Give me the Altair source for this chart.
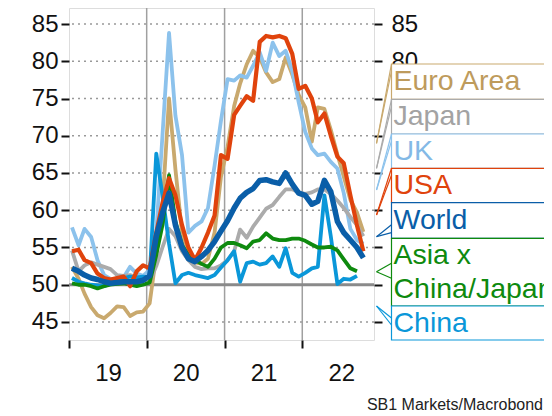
import altair as alt
import pandas as pd

FONT = "Liberation Sans"

months = [f"{2019 + i // 12}-{i % 12 + 1:02d}-15" for i in range(46)]

euro = [52.4, 50.8, 48.8, 47.0, 45.9, 45.5, 46.2, 47.1, 47.0, 45.8, 46.3, 46.4,
        47.5, 54.0, 60.5, 75.0, 65.5, 57.0, 53.5, 53.0, 52.8, 53.5, 57.0, 64.5,
        68.5, 74.0, 77.0, 79.6, 81.4, 80.5, 78.5, 77.2, 77.6, 80.5, 78.2, 75.5,
        73.8, 69.2, 73.8, 73.6, 70.8, 67.5, 64.5, 61.4, 59.7, 57.1]
japan = [54.6, 51.8, 52.6, 53.0, 52.7, 52.4, 52.1, 51.3, 51.2, 51.3, 51.0, 50.7,
         50.4, 52.5, 55.0, 57.5, 56.5, 54.5, 53.3, 52.4, 52.1, 52.2, 52.2, 52.6,
         53.3, 54.5, 57.4, 56.3, 57.8, 59.0, 60.2, 60.7, 61.8, 62.8, 62.8, 62.4,
         62.2, 62.4, 62.8, 62.8, 62.2, 61.3, 60.3, 59.1, 58.0, 56.5]
uk = [57.7, 55.3, 57.5, 56.4, 53.3, 51.3, 50.8, 50.6, 51.0, 52.4, 51.5, 51.2,
      52.0, 57.0, 70.0, 83.8, 72.7, 67.4, 57.0, 57.9, 58.5, 60.3, 66.0, 72.0,
      77.6, 77.4, 78.1, 77.8, 79.4, 81.2, 78.7, 82.5, 80.7, 81.4, 78.7, 74.5,
      70.5, 68.3, 67.4, 67.6, 66.5, 65.6, 62.3, 57.5, 56.0, 55.5]
usa = [54.5, 54.7, 53.3, 52.9, 51.5, 50.9, 50.7, 50.9, 51.1, 49.8, 51.8, 52.6,
       52.2, 57.0, 60.9, 64.3, 62.0, 58.0, 55.0, 53.3, 55.0, 57.0, 59.3, 67.4,
       66.9, 72.8, 74.0, 75.3, 74.7, 82.6, 83.4, 83.2, 83.4, 83.1, 81.0, 76.3,
       76.7, 75.0, 71.8, 73.0, 70.0, 67.2, 66.3, 62.0, 58.0, 54.5]
world = [52.2, 51.8, 51.3, 50.9, 50.7, 50.4, 50.2, 50.3, 50.4, 50.4, 50.4, 50.6,
         51.2, 56.5, 59.6, 62.3, 58.0, 55.0, 53.5, 53.1, 53.8, 54.6, 55.8, 57.2,
         58.6, 60.3, 61.6, 62.4, 62.9, 64.0, 64.1, 63.8, 63.6, 65.0, 63.5, 62.3,
         62.0, 60.8, 61.2, 64.0, 62.5, 58.5, 57.0, 56.0, 55.0, 53.6]
asia = [50.2, 50.0, 50.0, 49.8, 49.5, 49.8, 50.0, 50.1, 50.2, 50.0, 49.8, 50.0,
        50.3, 54.0, 58.0, 64.7, 58.5, 55.3, 54.0, 53.3, 52.8, 52.4, 53.5, 55.0,
        55.6, 55.6, 55.3, 54.9, 55.8, 56.0, 56.9, 56.2, 56.0, 56.0, 56.2, 56.2,
        55.9, 55.4, 55.0, 55.0, 55.1, 54.6, 53.4, 52.2, 51.8]
china = [50.9, 50.4, 50.2, 50.0, 49.9, 49.8, 50.2, 50.7, 50.9, 51.1, 51.0, 51.1,
         51.0, 67.6, 62.0, 55.5, 50.2, 51.3, 51.6, 51.3, 51.1, 50.9, 51.3, 52.3,
         53.3, 54.5, 50.4, 52.9, 53.1, 52.7, 52.9, 53.8, 52.4, 54.9, 51.6, 51.1,
         51.6, 52.2, 52.4, 62.0, 56.5, 50.1, 50.8, 50.7, 51.2]

names = ["Euro Area", "Japan", "UK", "USA", "World", "Asia x China/Japan", "China"]
values = [euro, japan, uk, usa, world, asia, china]
colors = ["#C9A96E", "#ABABAB", "#8CC2EC", "#E0430C", "#0A5EA8", "#0E8A0E", "#0A97D9"]
text_colors = ["#BE9B5C", "#A3A3A3", "#83B9E6", "#E0430C", "#0A5EA8", "#0E8A0E", "#0A97D9"]
widths = [3.8, 3.8, 3.8, 4.2, 5.5, 3.8, 3.8]
draw_order = ["Euro Area", "UK", "Japan", "China", "Asia x China/Japan", "USA", "World"]

tick_values = [45, 50, 55, 60, 65, 70, 75, 80, 85]
grid_values = [45, 55, 60, 65, 70, 75, 80, 85]
year_lines = ["2020-01-01", "2021-01-01", "2022-01-01"]
year_ticks = [2019, 2020, 2021, 2022]
label_lines = [["Euro Area"], ["Japan"], ["UK"], ["USA"], ["World"], ["Asia x", "China/Japan"], ["China"]]
source = "SB1 Markets/Macrobond"

W, H = 305, 332
xscale = alt.Scale(type="utc", domain=[alt.DateTime(year=2019, month=1, date=1, utc=True),
                                        alt.DateTime(year=2022, month=12, date=4, utc=True)])
yscale = alt.Scale(domain=[42.58, 87.15], nice=False, zero=False)

x_axis = alt.Axis(values=[alt.DateTime(year=y, month=1, date=1, utc=True) for y in year_ticks],
                  format="%y", labelOffset=39, tickSize=8, tickWidth=2, tickColor="#111",
                  domain=False, grid=False, labelFontSize=24, labelFont=FONT, labelColor="#111",
                  labelPadding=13, labelFlush=False, labelOverlap=False, title=None)
left_axis = alt.Axis(orient="left", values=tick_values, tickSize=8, tickWidth=2, tickColor="#111",
                     domain=False, grid=False, labelFontSize=24, labelFont=FONT, labelColor="#111",
                     labelPadding=3, title=None)
# on the right only the top labels stay visible (the rest sit behind the label boxes)
right_axis = alt.Axis(orient="right", values=tick_values, tickSize=8, tickWidth=2, tickColor="#111",
                      domain=False, grid=False, labelFontSize=24, labelFont=FONT, labelColor="#111",
                      labelPadding=9, title=None, labelExpr="datum.value >= 80 ? datum.label : ''")

grid = alt.Chart(pd.DataFrame({"v": grid_values})).mark_rule(
    color="#999999", strokeWidth=1.6, strokeDash=[2, 4]).encode(
    y=alt.Y("v:Q", scale=yscale, axis=right_axis))
fifty = alt.Chart(pd.DataFrame({"v": [50]})).mark_rule(color="#8A8A8A", strokeWidth=3).encode(
    y=alt.Y("v:Q", scale=yscale, axis=None))
years = alt.Chart(pd.DataFrame({"d": year_lines})).mark_rule(color="#A0A0A0", strokeWidth=1.5).encode(
    x=alt.X("d:T", scale=xscale, axis=None))

layers = [grid, years, fifty]
for k, nm in enumerate(draw_order):
    idx = names.index(nm)
    vals = values[idx]
    df = pd.DataFrame({"date": months[:len(vals)], "value": vals})
    layers.append(alt.Chart(df).mark_line(clip=True, color=colors[idx], strokeWidth=widths[idx],
                                          strokeJoin="round").encode(
        x=alt.X("date:T", scale=xscale, axis=x_axis if k == 0 else None),
        y=alt.Y("value:Q", scale=yscale, axis=left_axis if k == 0 else None)))

# callout boxes (pixel layout relative to plot area)
box_x = 322.5
tops = [56, 91.3, 126, 160.3, 194.7, 230.3, 298]
bottoms = tops[1:] + [332]
tips = [135.3, 160.3, 182, 207, 228.7, 263.7, 298]
tip_x = 307.5
bases = [(tops[0], tops[0] + 7), (tops[1], tops[1] + 7), (tops[2], tops[2] + 7), (tops[3], tops[3] + 7),
         (tops[4] + 22, tops[4] + 30), (255.3, 270.3), (tops[6] + 12, tops[6] + 19)]

boxes = pd.DataFrame({"x": [box_x] * 7, "x2": [500] * 7, "y": tops, "y2": bottoms, "c": colors})
box_layer = alt.Chart(boxes).mark_rect(fill="white", strokeWidth=1.2).encode(
    x=alt.X("x:Q", scale=None, axis=None), x2="x2:Q",
    y=alt.Y("y:Q", scale=None, axis=None), y2="y2:Q",
    stroke=alt.Color("c:N", scale=None))
segs = []
for i in range(7):
    b1, b2 = bases[i]
    segs.append({"x": tip_x, "y": tips[i], "x2": box_x, "y2": b1, "c": colors[i]})
    segs.append({"x": tip_x, "y": tips[i], "x2": box_x, "y2": b2, "c": colors[i]})
seg_layer = alt.Chart(pd.DataFrame(segs)).mark_rule(strokeWidth=1.2).encode(
    x=alt.X("x:Q", scale=None, axis=None), x2="x2:Q",
    y=alt.Y("y:Q", scale=None, axis=None), y2="y2:Q",
    color=alt.Color("c:N", scale=None))
texts = []
for i in range(7):
    for j, line in enumerate(label_lines[i]):
        texts.append({"x": box_x + 2, "y": tops[i] + 26 + 33.4 * j, "t": line, "c": text_colors[i]})
text_layer = alt.Chart(pd.DataFrame(texts)).mark_text(
    align="left", baseline="alphabetic", font=FONT, fontSize=28.5).encode(
    x=alt.X("x:Q", scale=None, axis=None), y=alt.Y("y:Q", scale=None, axis=None),
    text="t:N", color=alt.Color("c:N", scale=None))
src_layer = alt.Chart(pd.DataFrame({"x": [474], "y": [402], "t": [source]})).mark_text(
    align="right", baseline="alphabetic", font=FONT, fontSize=16, color="#222222").encode(
    x=alt.X("x:Q", scale=None, axis=None), y=alt.Y("y:Q", scale=None, axis=None), text="t:N")

layers += [box_layer, seg_layer, text_layer, src_layer]

chart = alt.layer(*layers).resolve_axis(x="independent", y="independent").properties(
    width=W, height=H, autosize=alt.AutoSizeParams(type="none"),
    padding={"left": 61, "top": 0, "right": 170, "bottom": 73}
).configure_view(stroke="#9A9A9A", strokeWidth=2).configure(background="white")

chart.save("out.html", embed_options={"renderer": "svg", "actions": False})
